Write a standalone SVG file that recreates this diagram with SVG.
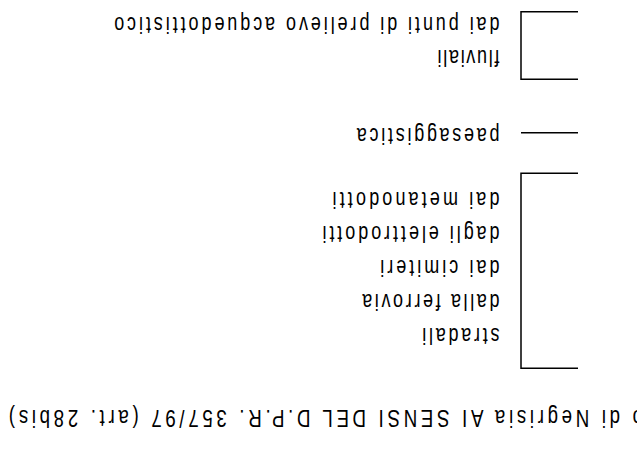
<svg xmlns="http://www.w3.org/2000/svg" width="637" height="469" viewBox="0 0 637 469">
<style>
.t{font-family:"Liberation Sans","DejaVu Sans",sans-serif;font-size:23px;fill:#000}
.b{font-size:24px}
.s{fill:none;stroke:#000;stroke-width:1.5}
</style>
<rect width="637" height="469" fill="#fff"/>
<g transform="rotate(180 318.5 234.5)">
<g id="connectors">
<polyline class="s" points="59,389.7 116,389.7 116,457.3 59,457.3"/>
<line class="s" x1="59" y1="336.3" x2="116" y2="336.3"/>
<polyline class="s" points="59,100.7 116,100.7 116,295.7 59,295.7"/>
</g>
<g id="node-fluviali">
<text class="t" transform="translate(137.5,452) scale(0.78,1)" textLength="494" lengthAdjust="spacing">dai punti di prelievo acquedottistico</text>
<text class="t" transform="translate(137.5,419) scale(0.78,1)" textLength="79.5" lengthAdjust="spacing">fluviali</text>
</g>
<g id="node-paesaggistica">
<text class="t" transform="translate(137.5,341) scale(0.78,1)" textLength="183" lengthAdjust="spacing">paesaggistica</text>
</g>
<g id="node-fasce">
<text class="t" transform="translate(137.5,141) scale(0.78,1)" textLength="99" lengthAdjust="spacing">stradali</text>
<text class="t" transform="translate(137.5,175) scale(0.78,1)" textLength="176" lengthAdjust="spacing">dalla ferrovia</text>
<text class="t" transform="translate(137.5,209) scale(0.78,1)" textLength="153" lengthAdjust="spacing">dai cimiteri</text>
<text class="t" transform="translate(137.5,243) scale(0.78,1)" textLength="227" lengthAdjust="spacing">dagli elettrodotti</text>
<text class="t" transform="translate(137.5,277) scale(0.78,1)" textLength="214" lengthAdjust="spacing">dai metanodotti</text>
</g>
<g id="node-title">
<text class="t b" transform="translate(-6,59) scale(0.78,1)" textLength="813" lengthAdjust="spacing">o di Negrisia AI SENSI DEL D.P.R. 357/97 (art. 28bis)</text>
</g>
</g>
</svg>
